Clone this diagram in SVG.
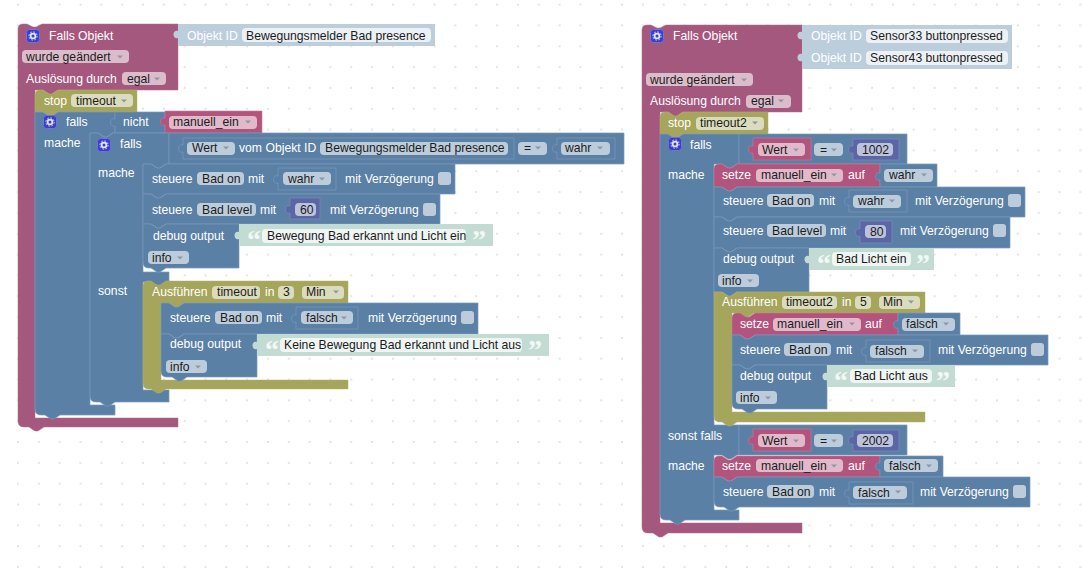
<svg xmlns="http://www.w3.org/2000/svg" width="1082" height="569" viewBox="0 0 1082 569">
<style>
text{font-family:"Liberation Sans",Arial,sans-serif;font-size:12.2px;fill:#fff}
text.d{fill:#1c1c1c}
text.q{font-family:"Liberation Serif",serif;font-size:28px;font-weight:bold;fill:#f2f8f5}
.f{fill:#fff;fill-opacity:.6;height:13px;rx:4px}
.w{fill:#fff;fill-opacity:.72;height:14px;rx:4px}
.cb{fill:#fff;fill-opacity:.6;width:13px;height:13px;rx:3px}
.pk{fill:#a5587e;stroke:#b06a8e;stroke-width:.5}
.vr{fill:#b2547c;stroke:#c97b9e;stroke-width:.6}
.bl{fill:#5b80a5;stroke:#789abb;stroke-width:.7}
.ol{fill:#a5a55b;stroke:#b0b06e;stroke-width:.5}
.ob{fill:#bccddb}
.st{fill:#c3dcd3}
.nm{fill:#5b67a5;stroke:#7c87bd;stroke-width:.8}
</style>
<defs>
<pattern id="grid" x="18" y="4.6" width="20.83" height="20.83" patternUnits="userSpaceOnUse">
<path d="M0,-1V1M-1,0H1M20.83,-1V1M19.83,0H21.83M0,19.83V21.83M-1,20.83H1M20.83,19.83V21.83M19.83,20.83H21.83" stroke="#dcdcdc" stroke-width="1"/>
</pattern>
<polygon id="c" points="-3,-1.5 3,-1.5 0,1.5" fill="#8c98a6"/>
<g id="gear">
<rect x=".5" y=".5" width="13" height="13" rx="3" fill="#3b3fc6" stroke="#6f73dc"/>
<circle cx="7" cy="7" r="2.4" fill="none" stroke="#dde3ff" stroke-width="1.8"/>
<circle cx="7" cy="7" r="4.1" fill="none" stroke="#dde3ff" stroke-width="1" stroke-dasharray="1.6 1.6"/>
</g>
</defs>
<rect width="1082" height="569" fill="#fff"/>
<rect width="1082" height="569" fill="url(#grid)"/>

<g id="trigger-left">
<path class="pk" d="M18,29Q18,24 23,24H27l6,3h3l6,-3H178V90H58l-6,4h-3l-6,-4H35V418H178V427H44l-6,4h-3l-6,-4H24Q18,427 18,421Z"/>
<use href="#gear" x="26" y="29"/>
<text x="49" y="40">Falls Objekt</text>
<rect class="f" x="22" y="50" width="107"/><text class="d" x="26" y="61">wurde geändert</text><use href="#c" x="120" y="57"/>
<text x="26" y="83">Auslösung durch</text>
<rect class="f" x="122" y="72" width="44"/><text class="d" x="127" y="83">egal</text><use href="#c" x="157" y="79"/>
</g>
<g id="objid-left">
<path class="ob" d="M178,24H435V46H178V38c-6,2 -6,-9 0,-7Z"/>
<text x="187" y="40">Objekt ID</text>
<rect class="w" x="242" y="28" width="189"/><text class="d" x="246" y="40">Bewegungsmelder Bad presence</text>
</g>
<g id="stop-left">
<path class="ol" d="M35,95Q35,90 40,90H43l6,4h3l6,-4H137V112H58l-6,4h-3l-6,-4H35Z"/>
<text x="44" y="105">stop</text>
<rect class="f" x="71" y="94" width="62"/><text class="d" x="76" y="105">timeout</text><use href="#c" x="124" y="101"/>
</g>
<g id="if-outer-left">
<path class="bl" d="M35,112H43l6,4h3l6,-4H115V133H113l-6,4h-3l-6,-4H90V405H115V415H60l-6,4h-3l-6,-4H41Q35,415 35,409Z"/>
<use href="#gear" x="43" y="115"/>
<text x="66" y="126">falls</text>
<text x="44" y="147">mache</text>
</g>
<g id="not-left">
<path class="bl" d="M115,112H165V133H115V126c-6,2 -6,-9 0,-7Z"/>
<text x="123" y="126">nicht</text>
</g>
<g id="var-manuell-left">
<path class="vr" d="M165,111H262V133H165V125c-6,2 -6,-9 0,-7Z"/>
<rect class="f" x="169" y="116" width="88"/><text class="d" x="173" y="126">manuell_ein</text><use href="#c" x="248" y="122"/>
</g>
<g id="if-inner-left">
<path class="bl" d="M90,133H98l6,4h3l6,-4H169V164H166l-6,4h-3l-6,-4H143V272H169V282H166l-6,4h-3l-6,-4H143V390H169V402H115l-6,4h-3l-6,-4H96Q90,402 90,396Z"/>
<use href="#gear" x="97" y="138"/>
<text x="120" y="148">falls</text>
<text x="98" y="177">mache</text>
<text x="98" y="295">sonst</text>
</g>
<g id="compare-left">
<path class="bl" d="M169,133H624V164H169Z"/>
<path class="bl" d="M183,138H514V159H183V152c-6,2 -6,-9 0,-7Z"/>
<rect class="f" x="187" y="142" width="48"/><text class="d" x="192" y="152">Wert</text><use href="#c" x="226" y="148"/>
<text x="239" y="152">vom Objekt ID</text>
<rect class="f" x="320" y="142" width="188"/><text class="d" x="325" y="152">Bewegungsmelder Bad presence</text>
<rect class="f" x="518" y="142" width="29"/><text class="d" x="524" y="152">=</text><use href="#c" x="538" y="148"/>
<path class="bl" d="M557,138H615V159H557V152c-6,2 -6,-9 0,-7Z"/>
<rect class="f" x="561" y="142" width="49"/><text class="d" x="565" y="152">wahr</text><use href="#c" x="600" y="148"/>
</g>
<g id="set-bad-on-1">
<path class="bl" d="M143,164H151l6,4h3l6,-4H455V194H166l-6,4h-3l-6,-4H143Z"/>
<text x="152" y="183">steuere</text>
<rect class="f" x="197" y="172" width="47"/><text class="d" x="202" y="183">Bad on</text>
<text x="248" y="183">mit</text>
<path class="bl" d="M278,168H336V190H278V183c-6,2 -6,-9 0,-7Z"/>
<rect class="f" x="283" y="172" width="48"/><text class="d" x="288" y="183">wahr</text><use href="#c" x="322" y="179"/>
<text x="345" y="183">mit Verzögerung</text>
<rect class="cb" x="438" y="172"/>
</g>
<g id="set-bad-level-1">
<path class="bl" d="M143,194H151l6,4h3l6,-4H440V224H166l-6,4h-3l-6,-4H143Z"/>
<text x="152" y="214">steuere</text>
<rect class="f" x="197" y="203" width="59"/><text class="d" x="202" y="214">Bad level</text>
<text x="260" y="214">mit</text>
<path class="nm" d="M290,198H320V219H290V213c-6,2 -6,-9 0,-7Z"/>
<rect class="f" x="295" y="203" width="21"/><text class="d" x="300" y="214">60</text>
<text x="330" y="214">mit Verzögerung</text>
<rect class="cb" x="423" y="203"/>
</g>
<g id="debug-1">
<path class="bl" d="M143,224H151l6,4h3l6,-4H239V268H166l-6,4h-3l-6,-4H149Q143,268 143,262Z"/>
<text x="153" y="240">debug output</text>
<rect class="f" x="148" y="251" width="41"/><text class="d" x="152" y="262">info</text><use href="#c" x="180" y="258"/>
</g>
<g id="text-1">
<path class="st" d="M239,224H493V246H239V239c-6,2 -6,-9 0,-7Z"/>
<text class="q" x="247" y="249">“</text>
<rect class="w" x="262" y="229" width="204"/><text class="d" x="267" y="240">Bewegung Bad erkannt und Licht ein</text>
<text class="q" x="472" y="249">”</text>
</g>
<g id="timeout-1">
<path class="ol" d="M143,286Q143,281 148,281H151l6,4h3l6,-4H348V303H184l-6,4h-3l-6,-4H161V380H348V389H166l-6,4h-3l-6,-4H149Q143,389 143,383Z"/>
<text x="152" y="296">Ausführen</text>
<rect class="f" x="212" y="286" width="48"/><text class="d" x="217" y="296">timeout</text>
<text x="265" y="296">in</text>
<rect class="f" x="278" y="286" width="16"/><text class="d" x="283" y="296">3</text>
<rect class="f" x="302" y="286" width="42"/><text class="d" x="306" y="296">Min</text><use href="#c" x="336" y="292"/>
</g>
<g id="set-bad-on-2">
<path class="bl" d="M161,303H169l6,4h3l6,-4H478V334H184l-6,4h-3l-6,-4H161Z"/>
<text x="170" y="322">steuere</text>
<rect class="f" x="215" y="311" width="47"/><text class="d" x="220" y="322">Bad on</text>
<text x="266" y="322">mit</text>
<path class="bl" d="M296,307H358V329H296V322c-6,2 -6,-9 0,-7Z"/>
<rect class="f" x="301" y="311" width="52"/><text class="d" x="306" y="322">falsch</text><use href="#c" x="344" y="318"/>
<text x="368" y="322">mit Verzögerung</text>
<rect class="cb" x="461" y="311"/>
</g>
<g id="debug-2">
<path class="bl" d="M161,334H169l6,4h3l6,-4H257V377H187l-6,4h-3l-6,-4H167Q161,377 161,371Z"/>
<text x="170" y="348">debug output</text>
<rect class="f" x="166" y="360" width="41"/><text class="d" x="170" y="371">info</text><use href="#c" x="198" y="367"/>
</g>
<g id="text-2">
<path class="st" d="M257,334H549V356H257V349c-6,2 -6,-9 0,-7Z"/>
<text class="q" x="265" y="359">“</text>
<rect class="w" x="280" y="338" width="242"/><text class="d" x="284" y="349">Keine Bewegung Bad erkannt und Licht aus</text>
<text class="q" x="528" y="359">”</text>
</g>

<g id="trigger-right">
<path class="pk" d="M642,30Q642,25 647,25H651l6,3h3l6,-3H802V112H683l-6,4h-3l-6,-4H660V523H802V533H668l-6,4h-3l-6,-4H648Q642,533 642,527Z"/>
<use href="#gear" x="650" y="29"/>
<text x="673" y="40">Falls Objekt</text>
<rect class="f" x="646" y="73" width="107"/><text class="d" x="650" y="84">wurde geändert</text><use href="#c" x="744" y="80"/>
<text x="650" y="105">Auslösung durch</text>
<rect class="f" x="746" y="95" width="45"/><text class="d" x="751" y="105">egal</text><use href="#c" x="781" y="101"/>
</g>
<g id="objid-right-1">
<path class="ob" d="M802,25H1012V47H802V39c-6,2 -6,-9 0,-7Z"/>
<text x="811" y="40">Objekt ID</text>
<rect class="w" x="866" y="29" width="142"/><text class="d" x="870" y="40">Sensor33 buttonpressed</text>
</g>
<g id="objid-right-2">
<path class="ob" d="M802,47H1012V69H802V61c-6,2 -6,-9 0,-7Z"/>
<text x="811" y="62">Objekt ID</text>
<rect class="w" x="866" y="51" width="142"/><text class="d" x="870" y="62">Sensor43 buttonpressed</text>
</g>
<g id="stop-right">
<path class="ol" d="M660,117Q660,112 665,112H668l6,4h3l6,-4H768V134H683l-6,4h-3l-6,-4H660Z"/>
<text x="668" y="127">stop</text>
<rect class="f" x="696" y="117" width="68"/><text class="d" x="700" y="127">timeout2</text><use href="#c" x="755" y="123"/>
</g>
<g id="if-right">
<path class="bl" d="M660,134H668l6,4h3l6,-4H739V164H737l-6,4h-3l-6,-4H714V425H739V455H737l-6,4h-3l-6,-4H714V510H739V520H685l-6,4h-3l-6,-4H666Q660,520 660,514Z"/>
<use href="#gear" x="668" y="137"/>
<text x="690" y="149">falls</text>
<text x="668" y="179">mache</text>
<text x="668" y="440">sonst falls</text>
<text x="668" y="470">mache</text>
</g>
<g id="compare-1002">
<path class="bl" d="M739,134H907V164H739Z"/>
<path class="vr" d="M753,138H811V160H753V153c-6,2 -6,-9 0,-7Z"/>
<rect class="f" x="758" y="143" width="47"/><text class="d" x="762" y="154">Wert</text><use href="#c" x="796" y="150"/>
<rect class="f" x="814" y="143" width="29"/><text class="d" x="820" y="154">=</text><use href="#c" x="834" y="150"/>
<path class="nm" d="M853,139H899V160H853V153c-6,2 -6,-9 0,-7Z"/>
<rect class="f" x="857" y="143" width="36"/><text class="d" x="862" y="154">1002</text>
</g>
<g id="set-var-1">
<path class="vr" d="M714,169Q714,164 719,164H722l6,4h3l6,-4H880V187H737l-6,4h-3l-6,-4H714Z"/>
<text x="722" y="179">setze</text>
<rect class="f" x="756" y="169" width="87"/><text class="d" x="761" y="179">manuell_ein</text><use href="#c" x="834" y="175"/>
<text x="848" y="179">auf</text>
</g>
<g id="val-wahr-1">
<path class="bl" d="M880,164H937V187H880V180c-6,2 -6,-9 0,-7Z"/>
<rect class="f" x="884" y="169" width="49"/><text class="d" x="889" y="179">wahr</text><use href="#c" x="924" y="175"/>
</g>
<g id="set-bad-on-3">
<path class="bl" d="M714,187H722l6,4h3l6,-4H1025V217H737l-6,4h-3l-6,-4H714Z"/>
<text x="723" y="205">steuere</text>
<rect class="f" x="767" y="194" width="47"/><text class="d" x="772" y="205">Bad on</text>
<text x="819" y="205">mit</text>
<path class="bl" d="M849,190H907V212H849V205c-6,2 -6,-9 0,-7Z"/>
<rect class="f" x="853" y="195" width="48"/><text class="d" x="858" y="205">wahr</text><use href="#c" x="892" y="201"/>
<text x="915" y="205">mit Verzögerung</text>
<rect class="cb" x="1008" y="194"/>
</g>
<g id="set-bad-level-2">
<path class="bl" d="M714,217H722l6,4h3l6,-4H1010V248H737l-6,4h-3l-6,-4H714Z"/>
<text x="723" y="235">steuere</text>
<rect class="f" x="767" y="224" width="59"/><text class="d" x="772" y="235">Bad level</text>
<text x="830" y="235">mit</text>
<path class="nm" d="M860,221H892V243H860V236c-6,2 -6,-9 0,-7Z"/>
<rect class="f" x="865" y="225" width="21"/><text class="d" x="870" y="236">80</text>
<text x="900" y="235">mit Verzögerung</text>
<rect class="cb" x="993" y="224"/>
</g>
<g id="debug-3">
<path class="bl" d="M714,248H722l6,4h3l6,-4H809V292H737l-6,4h-3l-6,-4H714Z"/>
<text x="723" y="263">debug output</text>
<rect class="f" x="718" y="274" width="41"/><text class="d" x="722" y="285">info</text><use href="#c" x="750" y="281"/>
</g>
<g id="text-3">
<path class="st" d="M809,248H934V270H809V263c-6,2 -6,-9 0,-7Z"/>
<text class="q" x="817" y="273">“</text>
<rect class="w" x="832" y="252" width="79"/><text class="d" x="836" y="263">Bad Licht ein</text>
<text class="q" x="916" y="273">”</text>
</g>
<g id="timeout-2">
<path class="ol" d="M714,292H722l6,4h3l6,-4H925V313H754l-6,4h-3l-6,-4H732V412H925V422H737l-6,4h-3l-6,-4H720Q714,422 714,416Z"/>
<text x="722" y="306">Ausführen</text>
<rect class="f" x="782" y="296" width="55"/><text class="d" x="786" y="306">timeout2</text>
<text x="842" y="306">in</text>
<rect class="f" x="855" y="296" width="16"/><text class="d" x="860" y="306">5</text>
<rect class="f" x="879" y="296" width="41"/><text class="d" x="883" y="306">Min</text><use href="#c" x="911" y="302"/>
</g>
<g id="set-var-2">
<path class="vr" d="M732,318Q732,313 737,313H740l6,4h3l6,-4H898V335H755l-6,4h-3l-6,-4H732Z"/>
<text x="740" y="328">setze</text>
<rect class="f" x="773" y="318" width="88"/><text class="d" x="777" y="328">manuell_ein</text><use href="#c" x="852" y="324"/>
<text x="865" y="328">auf</text>
</g>
<g id="val-falsch-1">
<path class="bl" d="M898,313H960V335H898V328c-6,2 -6,-9 0,-7Z"/>
<rect class="f" x="902" y="318" width="53"/><text class="d" x="906" y="328">falsch</text><use href="#c" x="946" y="324"/>
</g>
<g id="set-bad-on-4">
<path class="bl" d="M732,335H740l6,4h3l6,-4H1048V365H755l-6,4h-3l-6,-4H732Z"/>
<text x="740" y="354">steuere</text>
<rect class="f" x="784" y="343" width="47"/><text class="d" x="789" y="354">Bad on</text>
<text x="836" y="354">mit</text>
<path class="bl" d="M866,340H930V362H866V355c-6,2 -6,-9 0,-7Z"/>
<rect class="f" x="870" y="345" width="54"/><text class="d" x="875" y="355">falsch</text><use href="#c" x="915" y="351"/>
<text x="938" y="354">mit Verzögerung</text>
<rect class="cb" x="1031" y="343"/>
</g>
<g id="debug-4">
<path class="bl" d="M732,365H740l6,4h3l6,-4H827V409H757l-6,4h-3l-6,-4H738Q732,409 732,403Z"/>
<text x="740" y="380">debug output</text>
<rect class="f" x="736" y="391" width="41"/><text class="d" x="740" y="402">info</text><use href="#c" x="768" y="398"/>
</g>
<g id="text-4">
<path class="st" d="M827,365H955V387H827V380c-6,2 -6,-9 0,-7Z"/>
<text class="q" x="834" y="390">“</text>
<rect class="w" x="850" y="369" width="82"/><text class="d" x="854" y="380">Bad Licht aus</text>
<text class="q" x="936" y="390">”</text>
</g>
<g id="compare-2002">
<path class="bl" d="M739,425H907V455H739Z"/>
<path class="vr" d="M753,429H811V451H753V444c-6,2 -6,-9 0,-7Z"/>
<rect class="f" x="758" y="434" width="47"/><text class="d" x="762" y="445">Wert</text><use href="#c" x="796" y="441"/>
<rect class="f" x="814" y="434" width="29"/><text class="d" x="820" y="445">=</text><use href="#c" x="834" y="441"/>
<path class="nm" d="M853,430H899V451H853V444c-6,2 -6,-9 0,-7Z"/>
<rect class="f" x="857" y="434" width="36"/><text class="d" x="862" y="445">2002</text>
</g>
<g id="set-var-3">
<path class="vr" d="M714,461Q714,456 719,456H722l6,4h3l6,-4H880V477H737l-6,4h-3l-6,-4H714Z"/>
<text x="722" y="470">setze</text>
<rect class="f" x="756" y="459" width="87"/><text class="d" x="761" y="470">manuell_ein</text><use href="#c" x="834" y="466"/>
<text x="848" y="470">auf</text>
</g>
<g id="val-falsch-2">
<path class="bl" d="M880,456H943V477H880V470c-6,2 -6,-9 0,-7Z"/>
<rect class="f" x="884" y="459" width="54"/><text class="d" x="889" y="470">falsch</text><use href="#c" x="929" y="466"/>
</g>
<g id="set-bad-on-5">
<path class="bl" d="M714,477H722l6,4h3l6,-4H1030V507H739l-6,4h-3l-6,-4H720Q714,507 714,501Z"/>
<text x="723" y="496">steuere</text>
<rect class="f" x="767" y="485" width="47"/><text class="d" x="772" y="496">Bad on</text>
<text x="819" y="496">mit</text>
<path class="bl" d="M849,482H913V504H849V497c-6,2 -6,-9 0,-7Z"/>
<rect class="f" x="853" y="486" width="54"/><text class="d" x="858" y="497">falsch</text><use href="#c" x="898" y="492"/>
<text x="920" y="496">mit Verzögerung</text>
<rect class="cb" x="1013" y="485"/>
</g>
</svg>
